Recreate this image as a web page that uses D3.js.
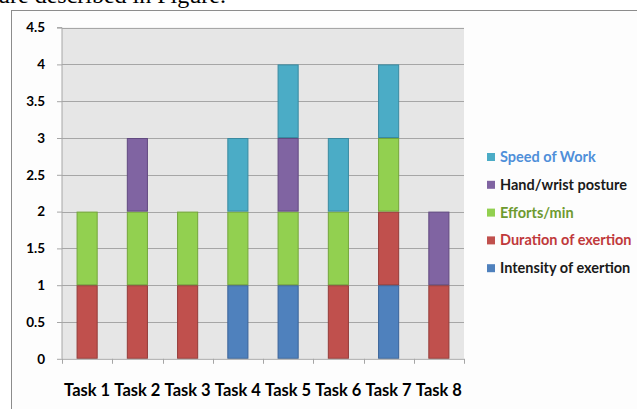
<!DOCTYPE html>
<html><head><meta charset="utf-8">
<script src="https://cdn.jsdelivr.net/npm/d3@7"></script>
<style>html,body{margin:0;padding:0;background:#fff;overflow:hidden}</style>
</head><body>
<svg id="c" width="637" height="409"></svg>
<script>
const categories = ["Task 1","Task 2","Task 3","Task 4","Task 5","Task 6","Task 7","Task 8"];
const seriesNames = ["Intensity of exertion","Duration of exertion","Efforts/min","Hand/wrist posture","Speed of Work"];
const intensity = [0,0,0,1,1,0,1,0];
const duration  = [1,1,1,0,0,1,1,1];
const efforts   = [1,1,1,1,1,1,1,0];
const hand      = [0,1,0,0,1,0,0,1];
const speed     = [0,0,0,1,1,1,1,0];
const yTicks = [0,0.5,1,1.5,2,2.5,3,3.5,4,4.5];
const colors = ["#4F81BD","#C0504D","#92D050","#8064A2","#4BACC6"];
const strokes = ["#3A6399","#943B39","#73A63A","#624A80","#3A8AA0"];
const textColors = ["#1a1a1a","#C0393B","#6E9A2F","#1a1a1a","#4F8FD9"];

(function(){
const svg = d3.select("#c");
const font = "Lato, 'Open Sans', sans-serif";

// clipped caption text above the chart
svg.append("text").attr("x",-2).attr("y",2.5).attr("font-family","'Liberation Serif', serif")
  .attr("font-size",24).attr("fill","#000").text("ure described in Figure.");

// outer chart border
svg.append("rect").attr("x",11.5).attr("y",10.5).attr("width",700).attr("height",500)
  .attr("fill","#fdfdfd").attr("stroke","#8c8c8c").attr("stroke-width",1);

const pl=62, pr=464, pt=27.6, pb=358.8;
const x = d3.scaleBand().domain(categories).range([pl,pr]).paddingInner(0.58).paddingOuter(0.29);
const xb = d3.scaleBand().domain(categories).range([pl,pr]);
const y = d3.scaleLinear().domain([0,4.5]).range([pb,pt]);

svg.append("rect").attr("x",pl).attr("y",pt).attr("width",pr-pl).attr("height",pb-pt).attr("fill","#e6e6e6");

// gridlines
svg.append("g").selectAll("line").data(yTicks.filter(d=>d>0)).join("line")
  .attr("x1",pl).attr("x2",pr).attr("y1",d=>Math.round(y(d))+0.5).attr("y2",d=>Math.round(y(d))+0.5)
  .attr("stroke","#a6a6a6").attr("stroke-width",1);

// stacked data
const rows = categories.map((c,i)=>({cat:c, s0:intensity[i], s1:duration[i], s2:efforts[i], s3:hand[i], s4:speed[i]}));
const stack = d3.stack().keys(["s0","s1","s2","s3","s4"])(rows);

svg.append("g").selectAll("g").data(stack).join("g")
  .attr("fill",(d,i)=>colors[i]).attr("stroke",(d,i)=>strokes[i])
  .selectAll("rect").data(d=>d.filter(p=>p[1]>p[0])).join("rect")
  .attr("x",d=>x(d.data.cat)+0.5).attr("width",x.bandwidth()-1)
  .attr("y",d=>y(d[1])+0.5).attr("height",d=>y(d[0])-y(d[1])-1)
  .attr("stroke-width",1);

// y axis
const yAxis = d3.axisLeft(y).tickValues(yTicks).tickSize(5).tickPadding(12).tickFormat(d=>String(d));
const gy = svg.append("g").attr("transform",`translate(${pl},0)`).call(yAxis);
gy.select(".domain").attr("stroke","#a6a6a6").attr("d",`M-5,${pt}H0V${pb}`);
gy.selectAll(".tick line").attr("stroke","#a6a6a6");
gy.selectAll(".tick text").attr("font-family",font).attr("font-weight","bold").attr("font-size",13.5).attr("fill","#000");

// x axis
const gx = svg.append("g").attr("transform",`translate(0,${pb})`);
gx.append("line").attr("x1",pl).attr("x2",pr).attr("y1",0.5).attr("y2",0.5).attr("stroke","#a6a6a6");
gx.selectAll("line.t").data(categories.concat(["end"])).join("line").attr("class","t")
  .attr("x1",(d,i)=>Math.round(pl+i*xb.bandwidth())+0.5).attr("x2",(d,i)=>Math.round(pl+i*xb.bandwidth())+0.5)
  .attr("y1",0).attr("y2",5).attr("stroke","#a6a6a6");
gx.selectAll("text").data(categories).join("text")
  .attr("x",d=>xb(d)+xb.bandwidth()/2).attr("y",37).attr("text-anchor","middle")
  .attr("font-family",font).attr("font-weight","bold").attr("font-size",16.5).attr("fill","#000").text(d=>d);

// legend (top to bottom: reversed)
const legendItems = seriesNames.map((n,i)=>({n,i})).reverse();
const lg = svg.append("g").selectAll("g").data(legendItems).join("g")
  .attr("transform",(d,k)=>`translate(487,${157+k*27.8})`);
lg.append("rect").attr("x",0).attr("y",-4).attr("width",8).attr("height",8).attr("fill",d=>colors[d.i]);
lg.append("text").attr("x",13).attr("y",5).attr("font-family",font).attr("font-weight","bold")
  .attr("font-size",14.5).attr("fill",d=>textColors[d.i]).text(d=>d.n);
})();
</script>
</body></html>
